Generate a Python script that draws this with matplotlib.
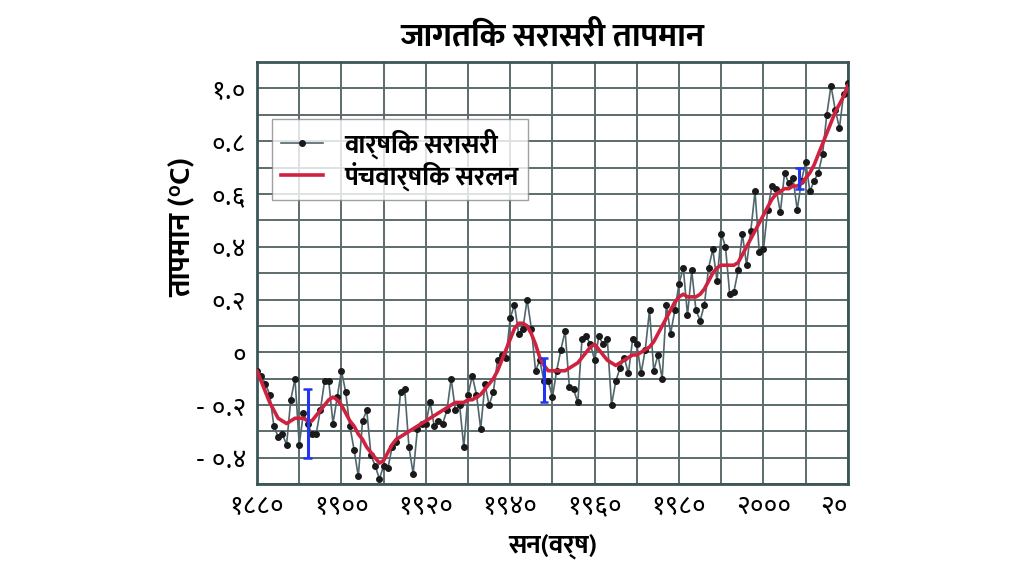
import matplotlib
matplotlib.use("Agg")
import matplotlib.pyplot as plt
from matplotlib import font_manager
from matplotlib.ticker import MultipleLocator

# annual mean anomaly
years = list(range(1880, 2021))
annual = [-0.07, -0.09, -0.12, -0.16, -0.28, -0.32, -0.31, -0.35, -0.18, -0.10,
          -0.35, -0.23, -0.27, -0.31, -0.31, -0.22, -0.11, -0.11, -0.27, -0.17,
          -0.07, -0.15, -0.28, -0.37, -0.47, -0.26, -0.22, -0.39, -0.43, -0.48,
          -0.43, -0.44, -0.36, -0.34, -0.15, -0.14, -0.36, -0.46, -0.29, -0.27,
          -0.27, -0.19, -0.28, -0.26, -0.27, -0.22, -0.10, -0.22, -0.20, -0.36,
          -0.16, -0.09, -0.16, -0.29, -0.12, -0.20, -0.15, -0.03, -0.01, -0.02,
          0.13, 0.18, 0.07, 0.09, 0.20, 0.09, -0.07, -0.03, -0.11, -0.11,
          -0.17, -0.07, 0.01, 0.08, -0.13, -0.14, -0.19, 0.05, 0.06, 0.03,
          -0.03, 0.06, 0.03, 0.05, -0.20, -0.11, -0.06, -0.02, -0.08, 0.05,
          0.03, -0.08, 0.01, 0.16, -0.07, -0.01, -0.10, 0.18, 0.07, 0.16,
          0.26, 0.32, 0.14, 0.31, 0.16, 0.12, 0.18, 0.32, 0.39, 0.27,
          0.45, 0.40, 0.22, 0.23, 0.31, 0.45, 0.33, 0.46, 0.61, 0.38,
          0.39, 0.54, 0.63, 0.62, 0.53, 0.68, 0.64, 0.66, 0.54, 0.65,
          0.72, 0.61, 0.65, 0.68, 0.75, 0.90, 1.01, 0.92, 0.85, 0.98,
          1.02]

# five year smoothed curve
smooth = [-0.07, -0.11, -0.15, -0.19, -0.22, -0.25, -0.26, -0.27, -0.26, -0.25,
          -0.25, -0.25, -0.26, -0.26, -0.24, -0.22, -0.20, -0.18, -0.17, -0.18,
          -0.20, -0.23, -0.26, -0.28, -0.31, -0.33, -0.36, -0.38, -0.40, -0.42,
          -0.41, -0.38, -0.35, -0.33, -0.32, -0.31, -0.30, -0.29, -0.28, -0.27,
          -0.26, -0.25, -0.24, -0.23, -0.22, -0.21, -0.20, -0.19, -0.19, -0.19,
          -0.18, -0.18, -0.17, -0.16, -0.14, -0.12, -0.10, -0.07, -0.03, 0.01,
          0.05, 0.09, 0.11, 0.11, 0.10, 0.07, 0.03, -0.02, -0.05, -0.07,
          -0.07, -0.07, -0.07, -0.07, -0.06, -0.05, -0.04, -0.02, 0.00, 0.02,
          0.03, 0.01, -0.01, -0.03, -0.04, -0.05, -0.04, -0.03, -0.02, -0.01,
          -0.01, 0.00, 0.01, 0.02, 0.04, 0.07, 0.10, 0.13, 0.16, 0.19,
          0.21, 0.22, 0.21, 0.21, 0.21, 0.22, 0.24, 0.27, 0.30, 0.32,
          0.33, 0.33, 0.33, 0.33, 0.34, 0.37, 0.40, 0.43, 0.46, 0.49,
          0.52, 0.55, 0.58, 0.60, 0.61, 0.62, 0.62, 0.63, 0.63, 0.64,
          0.66, 0.68, 0.71, 0.75, 0.79, 0.83, 0.87, 0.91, 0.94, 0.97,
          1.01]

# uncertainty bars
err_years = [1892, 1948, 2008.5]
err_low = [-0.40, -0.19, 0.62]
err_high = [-0.14, -0.02, 0.70]

xtick_pos = [1880, 1900, 1920, 1940, 1960, 1980, 2000, 2020]
xtick_labels = ["१८८०", "१९००", "१९२०", "१९४०", "१९६०", "१९८०", "२०००", "२०"]
ytick_pos = [1.0, 0.8, 0.6, 0.4, 0.2, 0.0, -0.2, -0.4]
ytick_labels = ["१.०", "०.८", "०.६", "०.४", "०.२", "०", "- ०.२", "- ०.४"]

# text font: Mukta (bold, Devanagari), digits font: Noto Sans Devanagari
names = {f.name for f in font_manager.fontManager.ttflist}
text_font = [n for n in ["Mukta", "Ek Mukta", "Noto Sans Devanagari"] if n in names][:1]
digit_font = [n for n in ["Noto Sans Devanagari", "Mukta"] if n in names][:1]
plt.rcParams["font.family"] = text_font + ["DejaVu Sans"]
plt.rcParams["font.weight"] = "bold"

fig = plt.figure(figsize=(10.24, 5.69), dpi=100)
ax = fig.add_axes([0.251, 0.149, 0.577, 0.742])

grid_color = "#5c6c6c"
ax.xaxis.set_minor_locator(MultipleLocator(10))
ax.yaxis.set_minor_locator(MultipleLocator(0.1))
ax.grid(True, which="both", color=grid_color, linewidth=1.4)
ax.set_axisbelow(True)

ax.plot(years, annual, color="#4f666c", linewidth=1.2, marker="o",
        markersize=4, markerfacecolor="#1a1a1a", markeredgecolor="#1a1a1a",
        label="वार्षिक सरासरी", zorder=3)
ax.plot(years, smooth, color="#d0213f", linewidth=2.6,
        label="पंचवार्षिक सरलन", zorder=4)

for x, lo, hi in zip(err_years, err_low, err_high):
    ax.vlines(x, lo, hi, color="#2236ee", linewidth=2.2, zorder=5)
    ax.hlines([lo, hi], x - 1.0, x + 1.0, color="#2236ee", linewidth=1.8, zorder=5)

ax.set_xlim(1880, 2020)
ax.set_ylim(-0.5, 1.1)
ax.set_xticks(xtick_pos)
ax.set_xticklabels(xtick_labels, fontsize=19, fontweight="bold",
                   family=digit_font + ["DejaVu Sans"])
ax.get_xticklabels()[-1].set_horizontalalignment("right")
ax.set_yticks(ytick_pos)
ax.set_yticklabels(ytick_labels, fontsize=19, fontweight="bold",
                   family=digit_font + ["DejaVu Sans"])
ax.tick_params(which="both", length=0)
ax.tick_params(axis="y", pad=8)
ax.tick_params(axis="x", pad=6)

for s in ax.spines.values():
    s.set_color("#3b5656")
    s.set_linewidth(2)

ax.set_title("जागतिक सरासरी तापमान", fontsize=24, fontweight="bold", pad=12)
ax.set_xlabel("सन(वर्ष)", fontsize=19, fontweight="bold", labelpad=10)
ax.set_ylabel("तापमान (°C)", fontsize=22, fontweight="bold")
ax.yaxis.set_label_coords(-0.10, 0.61)

leg = ax.legend(loc="upper left", bbox_to_anchor=(0.025, 0.865),
                borderaxespad=0, prop={"size": 19, "weight": "bold"},
                frameon=True, fancybox=False, borderpad=0.35,
                handlelength=1.6, handletextpad=0.8, labelspacing=0.1)
leg.get_frame().set_edgecolor("#888888")
leg.get_frame().set_linewidth(1.0)

fig.savefig("out.png", dpi=100)
